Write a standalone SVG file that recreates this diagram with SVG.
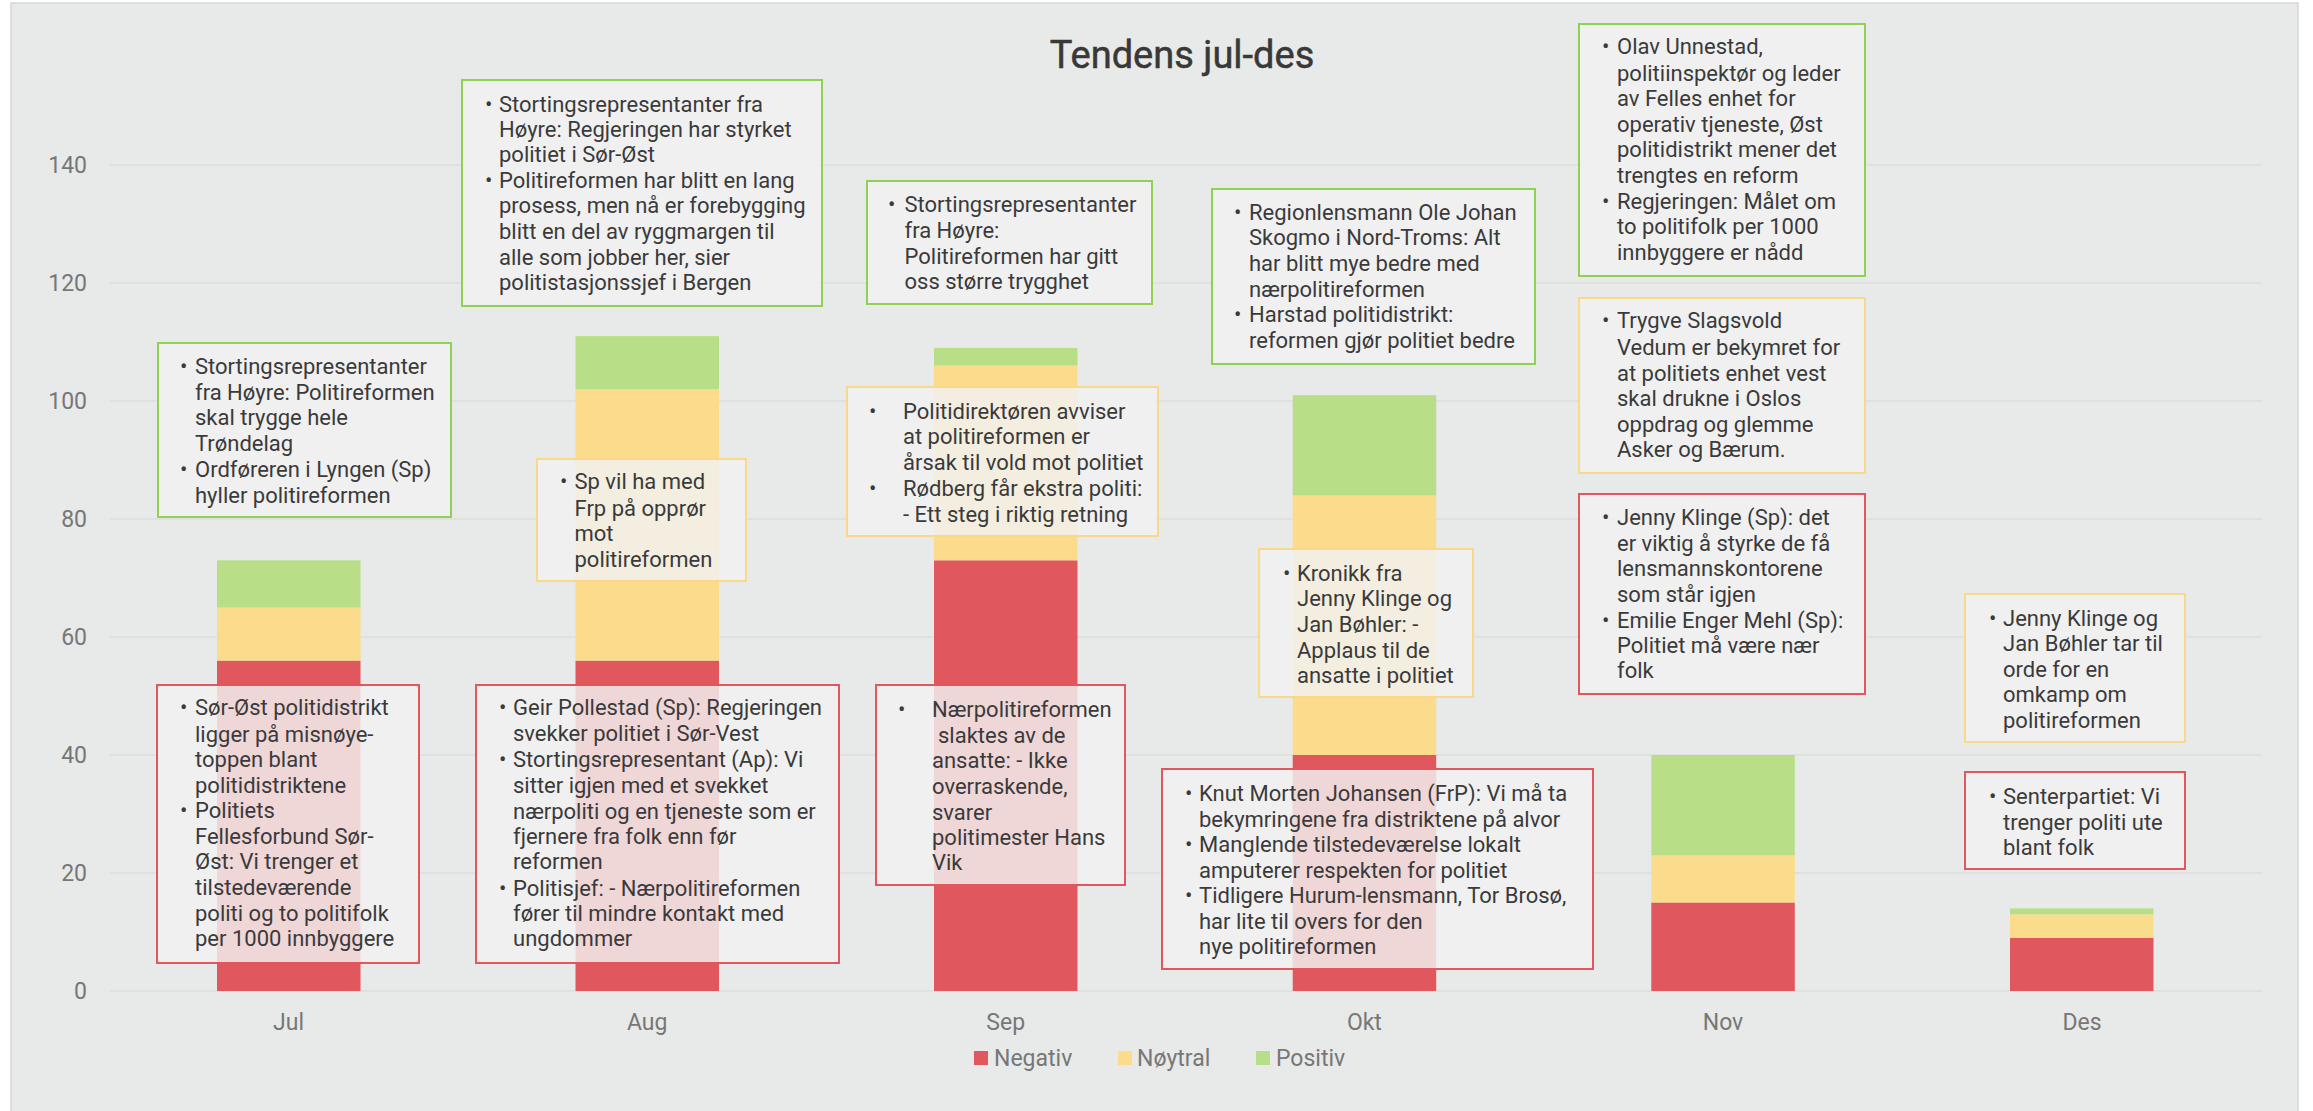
<svg xmlns="http://www.w3.org/2000/svg" width="2313" height="1111" viewBox="0 0 2313 1111">
<style>
.t{font-family:Roboto,"Liberation Sans",sans-serif;font-size:22px;fill:#3a3a3a}
.ax{font-family:Roboto,"Liberation Sans",sans-serif;font-size:23px;fill:#777}
.box{fill:#f2f2f2;fill-opacity:.82;stroke-width:2}
.g{stroke:#8fd155}.y{stroke:#f8d98a}.r{stroke:#e0585d}
.neg{fill:#e0585d}.neu{fill:#fadc8c}.pos{fill:#b8df88}
.grid line{stroke:#dcdcdc;stroke-width:1.5}
</style>
<rect width="2313" height="1111" fill="#fff"/>
<rect x="11" y="3" width="2287" height="1112" fill="#e8e9e9" stroke="#d6d6d6" stroke-width="1.5"/>
<text x="1182" y="68" text-anchor="middle" style="font-family:Roboto,'Liberation Sans',sans-serif;font-size:38px;font-weight:normal;fill:#383838;stroke:#383838;stroke-width:0.5">Tendens jul-des</text>
<g class="grid">
<line x1="110" y1="991" x2="2262" y2="991"/><line x1="110" y1="873" x2="2262" y2="873"/><line x1="110" y1="755" x2="2262" y2="755"/><line x1="110" y1="637" x2="2262" y2="637"/><line x1="110" y1="519" x2="2262" y2="519"/><line x1="110" y1="401" x2="2262" y2="401"/><line x1="110" y1="283" x2="2262" y2="283"/><line x1="110" y1="165" x2="2262" y2="165"/>
</g>
<g class="ax" text-anchor="end">
<text x="87" y="999">0</text><text x="87" y="881">20</text><text x="87" y="763">40</text><text x="87" y="645">60</text><text x="87" y="527">80</text><text x="87" y="409">100</text><text x="87" y="291">120</text><text x="87" y="173">140</text>
</g>
<g id="bars">
<rect class="neg" x="217" y="660.6" width="143.5" height="330.4"/><rect class="neu" x="217" y="607.5" width="143.5" height="53.1"/><rect class="pos" x="217" y="560.3" width="143.5" height="47.2"/>
<rect class="neg" x="575.5" y="660.6" width="143.5" height="330.4"/><rect class="neu" x="575.5" y="389.2" width="143.5" height="271.4"/><rect class="pos" x="575.5" y="336.1" width="143.5" height="53.1"/>
<rect class="neg" x="934" y="560.3" width="143.5" height="430.7"/><rect class="neu" x="934" y="365.6" width="143.5" height="194.7"/><rect class="pos" x="934" y="347.9" width="143.5" height="17.7"/>
<rect class="neg" x="1292.7" y="755" width="143.5" height="236"/><rect class="neu" x="1292.7" y="495.4" width="143.5" height="259.6"/><rect class="pos" x="1292.7" y="395.1" width="143.5" height="100.3"/>
<rect class="neg" x="1651.3" y="902.5" width="143.5" height="88.5"/><rect class="neu" x="1651.3" y="855.3" width="143.5" height="47.2"/><rect class="pos" x="1651.3" y="755" width="143.5" height="100.3"/>
<rect class="neg" x="2010" y="937.9" width="143.5" height="53.1"/><rect class="neu" x="2010" y="914.3" width="143.5" height="23.6"/><rect class="pos" x="2010" y="908.4" width="143.5" height="5.9"/>
</g>
<g class="ax" text-anchor="middle">
<text x="288.5" y="1030">Jul</text><text x="647.2" y="1030">Aug</text><text x="1005.7" y="1030">Sep</text><text x="1364.4" y="1030">Okt</text><text x="1723" y="1030">Nov</text><text x="2082" y="1030">Des</text>
</g>
<g id="legend" class="ax">
<rect class="neg" x="974" y="1051" width="14" height="14"/><text x="994" y="1066">Negativ</text>
<rect class="neu" x="1118" y="1051" width="14" height="14"/><text x="1137" y="1066">Nøytral</text>
<rect class="pos" x="1256" y="1051" width="14" height="14"/><text x="1276" y="1066">Positiv</text>
</g>
<g id="jul-green"><rect class="box g" x="158" y="343" width="293" height="174"/>
<text class="t"><tspan x="180" y="374">•</tspan><tspan x="195" y="374">Stortingsrepresentanter</tspan><tspan x="195" y="400">fra Høyre: Politireformen</tspan><tspan x="195" y="425">skal trygge hele</tspan><tspan x="195" y="451">Trøndelag</tspan><tspan x="180" y="476.5">•</tspan><tspan x="195" y="476.5">Ordføreren i Lyngen (Sp)</tspan><tspan x="195" y="502.5">hyller politireformen</tspan></text></g>
<g id="jul-red"><rect class="box r" x="157" y="685" width="262" height="278"/>
<text class="t"><tspan x="180" y="715">•</tspan><tspan x="195" y="715">Sør-Øst politidistrikt</tspan><tspan x="195" y="742">ligger på misnøye-</tspan><tspan x="195" y="767">toppen blant</tspan><tspan x="195" y="793">politidistriktene</tspan><tspan x="180" y="818">•</tspan><tspan x="195" y="818">Politiets</tspan><tspan x="195" y="844">Fellesforbund Sør-</tspan><tspan x="195" y="869">Øst: Vi trenger et</tspan><tspan x="195" y="895">tilstedeværende</tspan><tspan x="195" y="920.5">politi og to politifolk</tspan><tspan x="195" y="946">per 1000 innbyggere</tspan></text></g>
<g id="aug-green"><rect class="box g" x="462" y="80" width="360" height="226"/>
<text class="t"><tspan x="485" y="111.5">•</tspan><tspan x="499" y="111.5">Stortingsrepresentanter fra</tspan><tspan x="499" y="137">Høyre: Regjeringen har styrket</tspan><tspan x="499" y="162">politiet i Sør-Øst</tspan><tspan x="485" y="188">•</tspan><tspan x="499" y="188">Politireformen har blitt en lang</tspan><tspan x="499" y="213">prosess, men nå er forebygging</tspan><tspan x="499" y="239">blitt en del av ryggmargen til</tspan><tspan x="499" y="265">alle som jobber her, sier</tspan><tspan x="499" y="290">politistasjonssjef i Bergen</tspan></text></g>
<g id="aug-yellow"><rect class="box y" x="537" y="459" width="209" height="122"/>
<text class="t"><tspan x="560" y="489">•</tspan><tspan x="574.5" y="489">Sp vil ha med</tspan><tspan x="574.5" y="515.5">Frp på opprør</tspan><tspan x="574.5" y="541">mot</tspan><tspan x="574.5" y="566.5">politireformen</tspan></text></g>
<g id="aug-red"><rect class="box r" x="476" y="685" width="363" height="278"/>
<text class="t"><tspan x="499" y="715">•</tspan><tspan x="513" y="715">Geir Pollestad (Sp): Regjeringen</tspan><tspan x="513" y="741">svekker politiet i Sør-Vest</tspan><tspan x="499" y="767">•</tspan><tspan x="513" y="767">Stortingsrepresentant (Ap): Vi</tspan><tspan x="513" y="793">sitter igjen med et svekket</tspan><tspan x="513" y="819">nærpoliti og en tjeneste som er</tspan><tspan x="513" y="844">fjernere fra folk enn før</tspan><tspan x="513" y="869">reformen</tspan><tspan x="499" y="895.5">•</tspan><tspan x="513" y="895.5">Politisjef: - Nærpolitireformen</tspan><tspan x="513" y="920.5">fører til mindre kontakt med</tspan><tspan x="513" y="946">ungdommer</tspan></text></g>
<g id="sep-green"><rect class="box g" x="867" y="181" width="285" height="123"/>
<text class="t"><tspan x="888" y="212">•</tspan><tspan x="904.5" y="212">Stortingsrepresentanter</tspan><tspan x="904.5" y="238">fra Høyre:</tspan><tspan x="904.5" y="264">Politireformen har gitt</tspan><tspan x="904.5" y="289">oss større trygghet</tspan></text></g>
<g id="sep-yellow"><rect class="box y" x="847" y="387" width="311" height="149"/>
<text class="t"><tspan x="869" y="419">•</tspan><tspan x="903" y="419">Politidirektøren avviser</tspan><tspan x="903" y="444">at politireformen er</tspan><tspan x="903" y="470">årsak til vold mot politiet</tspan><tspan x="869" y="496">•</tspan><tspan x="903" y="496">Rødberg får ekstra politi:</tspan><tspan x="903" y="522">- Ett steg i riktig retning</tspan></text></g>
<g id="sep-red"><rect class="box r" x="876" y="685" width="249" height="200"/>
<text class="t"><tspan x="898" y="717">•</tspan><tspan x="932" y="717">Nærpolitireformen</tspan><tspan x="938" y="743">slaktes av de</tspan><tspan x="932" y="768">ansatte: - Ikke</tspan><tspan x="932" y="794">overraskende,</tspan><tspan x="932" y="820">svarer</tspan><tspan x="932" y="845">politimester Hans</tspan><tspan x="932" y="870">Vik</tspan></text></g>
<g id="okt-green"><rect class="box g" x="1212" y="189" width="323" height="175"/>
<text class="t"><tspan x="1234" y="220">•</tspan><tspan x="1249" y="220">Regionlensmann Ole Johan</tspan><tspan x="1249" y="245">Skogmo i Nord-Troms: Alt</tspan><tspan x="1249" y="270.5">har blitt mye bedre med</tspan><tspan x="1249" y="296.5">nærpolitireformen</tspan><tspan x="1234" y="322">•</tspan><tspan x="1249" y="322">Harstad politidistrikt:</tspan><tspan x="1249" y="348">reformen gjør politiet bedre</tspan></text></g>
<g id="okt-yellow"><rect class="box y" x="1259" y="549" width="214" height="148"/>
<text class="t"><tspan x="1283" y="581">•</tspan><tspan x="1297" y="581">Kronikk fra</tspan><tspan x="1297" y="606">Jenny Klinge og</tspan><tspan x="1297" y="632">Jan Bøhler: -</tspan><tspan x="1297" y="658">Applaus til de</tspan><tspan x="1297" y="683">ansatte i politiet</tspan></text></g>
<g id="okt-red"><rect class="box r" x="1162" y="769" width="431" height="200"/>
<text class="t"><tspan x="1185" y="801">•</tspan><tspan x="1199" y="801">Knut Morten Johansen (FrP): Vi må ta</tspan><tspan x="1199" y="826.5">bekymringene fra distriktene på alvor</tspan><tspan x="1185" y="851.5">•</tspan><tspan x="1199" y="851.5">Manglende tilstedeværelse lokalt</tspan><tspan x="1199" y="877.5">amputerer respekten for politiet</tspan><tspan x="1185" y="902.5">•</tspan><tspan x="1199" y="902.5">Tidligere Hurum-lensmann, Tor Brosø,</tspan><tspan x="1199" y="928.5">har lite til overs for den</tspan><tspan x="1199" y="953.5">nye politireformen</tspan></text></g>
<g id="nov-green"><rect class="box g" x="1579" y="24" width="286" height="252"/>
<text class="t"><tspan x="1602" y="54">•</tspan><tspan x="1617" y="54">Olav Unnestad,</tspan><tspan x="1617" y="80.5">politiinspektør og leder</tspan><tspan x="1617" y="105.5">av Felles enhet for</tspan><tspan x="1617" y="132">operativ tjeneste, Øst</tspan><tspan x="1617" y="157">politidistrikt mener det</tspan><tspan x="1617" y="183">trengtes en reform</tspan><tspan x="1602" y="209">•</tspan><tspan x="1617" y="209">Regjeringen: Målet om</tspan><tspan x="1617" y="234">to politifolk per 1000</tspan><tspan x="1617" y="260">innbyggere er nådd</tspan></text></g>
<g id="nov-yellow"><rect class="box y" x="1579" y="298" width="286" height="175"/>
<text class="t"><tspan x="1602" y="328">•</tspan><tspan x="1617" y="328">Trygve Slagsvold</tspan><tspan x="1617" y="354.5">Vedum er bekymret for</tspan><tspan x="1617" y="380.5">at politiets enhet vest</tspan><tspan x="1617" y="405.5">skal drukne i Oslos</tspan><tspan x="1617" y="432">oppdrag og glemme</tspan><tspan x="1617" y="457">Asker og Bærum.</tspan></text></g>
<g id="nov-red"><rect class="box r" x="1579" y="494" width="286" height="200"/>
<text class="t"><tspan x="1602" y="525">•</tspan><tspan x="1617" y="525">Jenny Klinge (Sp): det</tspan><tspan x="1617" y="551">er viktig å styrke de få</tspan><tspan x="1617" y="576">lensmannskontorene</tspan><tspan x="1617" y="602">som står igjen</tspan><tspan x="1602" y="627.5">•</tspan><tspan x="1617" y="627.5">Emilie Enger Mehl (Sp):</tspan><tspan x="1617" y="652.5">Politiet må være nær</tspan><tspan x="1617" y="678">folk</tspan></text></g>
<g id="des-yellow"><rect class="box y" x="1965" y="594" width="220" height="148"/>
<text class="t"><tspan x="1989" y="626">•</tspan><tspan x="2003" y="626">Jenny Klinge og</tspan><tspan x="2003" y="651">Jan Bøhler tar til</tspan><tspan x="2003" y="677">orde for en</tspan><tspan x="2003" y="702">omkamp om</tspan><tspan x="2003" y="727.5">politireformen</tspan></text></g>
<g id="des-red"><rect class="box r" x="1965" y="772" width="220" height="97"/>
<text class="t"><tspan x="1989" y="804">•</tspan><tspan x="2003" y="804">Senterpartiet: Vi</tspan><tspan x="2003" y="829.5">trenger politi ute</tspan><tspan x="2003" y="854.5">blant folk</tspan></text></g>
</svg>
